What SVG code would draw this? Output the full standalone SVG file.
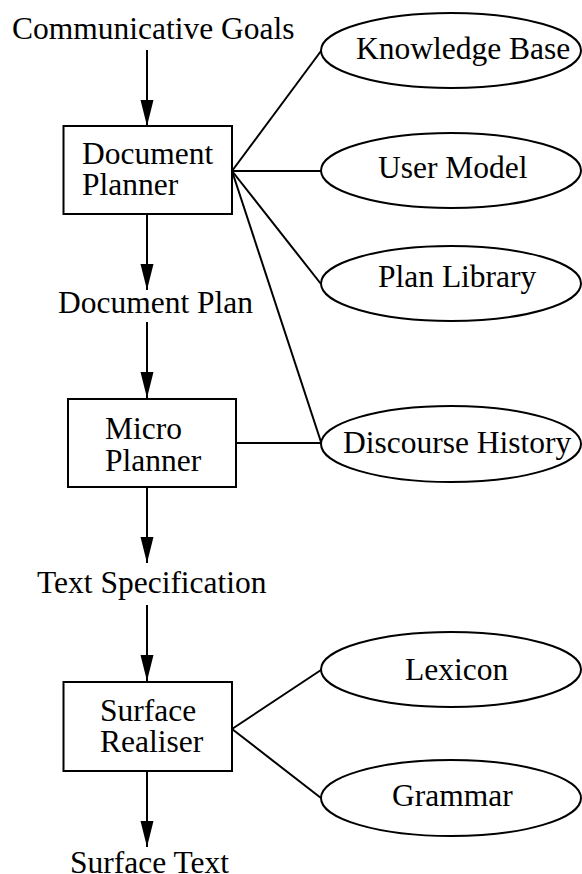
<svg xmlns="http://www.w3.org/2000/svg" width="582" height="874" viewBox="0 0 582 874">
  <style>
    .lbl { font-family: "Liberation Serif", "Times New Roman", serif; font-size: 31.5px; fill: #000; }
    .box { fill: #fff; stroke: #000; stroke-width: 2; }
    .ell { fill: #fff; stroke: #000; stroke-width: 2; }
    .edge { fill: none; stroke: #000; stroke-width: 2; }
  </style>
  <defs>
    <marker id="arrow" markerUnits="userSpaceOnUse" markerWidth="28" markerHeight="16" refX="26" refY="7" orient="auto">
      <polygon points="0,0.5 26,7 0,13.5" fill="#000"/>
    </marker>
  </defs>
  <rect width="582" height="874" fill="#fff"/>

  <!-- connectors -->
  <g id="connectors">
    <line class="edge" x1="147" y1="50" x2="147" y2="126" marker-end="url(#arrow)"/>
    <line class="edge" x1="147" y1="214" x2="147" y2="290" marker-end="url(#arrow)"/>
    <line class="edge" x1="147" y1="322" x2="147" y2="398" marker-end="url(#arrow)"/>
    <line class="edge" x1="147" y1="487" x2="147" y2="563" marker-end="url(#arrow)"/>
    <line class="edge" x1="147" y1="605" x2="147" y2="681" marker-end="url(#arrow)"/>
    <line class="edge" x1="147" y1="771" x2="147" y2="847" marker-end="url(#arrow)"/>
    <line class="edge" x1="232" y1="171" x2="321" y2="51"/>
    <line class="edge" x1="232" y1="171" x2="321" y2="171"/>
    <line class="edge" x1="232" y1="171" x2="321" y2="284"/>
    <line class="edge" x1="232" y1="171" x2="321" y2="442"/>
    <line class="edge" x1="236" y1="443" x2="321" y2="443"/>
    <line class="edge" x1="232" y1="729" x2="321" y2="670"/>
    <line class="edge" x1="232" y1="729" x2="321" y2="798"/>
  </g>

  <!-- flow labels -->
  <text class="lbl" x="12" y="39">Communicative Goals</text>
  <text class="lbl" x="58" y="313">Document Plan</text>
  <text class="lbl" x="37" y="593">Text Specification</text>
  <text class="lbl" x="70" y="873">Surface Text</text>

  <!-- processing stages -->
  <g id="document-planner">
    <rect class="box" x="63.5" y="126" width="168.5" height="88"/>
    <text class="lbl" x="82" y="164">Document</text>
    <text class="lbl" x="82" y="195">Planner</text>
  </g>
  <g id="micro-planner">
    <rect class="box" x="68" y="399" width="168" height="88"/>
    <text class="lbl" x="105" y="439">Micro</text>
    <text class="lbl" x="105" y="471">Planner</text>
  </g>
  <g id="surface-realiser">
    <rect class="box" x="63.5" y="682" width="168.5" height="89"/>
    <text class="lbl" x="100" y="721">Surface</text>
    <text class="lbl" x="100" y="752">Realiser</text>
  </g>

  <!-- knowledge sources -->
  <g id="knowledge-base">
    <ellipse class="ell" cx="451" cy="50.5" rx="130" ry="37.5"/>
    <text class="lbl" x="356" y="59">Knowledge Base</text>
  </g>
  <g id="user-model">
    <ellipse class="ell" cx="451" cy="170.5" rx="130" ry="37.5"/>
    <text class="lbl" x="378" y="178">User Model</text>
  </g>
  <g id="plan-library">
    <ellipse class="ell" cx="451" cy="283.5" rx="130" ry="37.5"/>
    <text class="lbl" x="378" y="287">Plan Library</text>
  </g>
  <g id="discourse-history">
    <ellipse class="ell" cx="451" cy="444" rx="130" ry="38"/>
    <text class="lbl" x="343" y="453">Discourse History</text>
  </g>
  <g id="lexicon">
    <ellipse class="ell" cx="451" cy="669.5" rx="130" ry="37.5"/>
    <text class="lbl" x="405" y="680">Lexicon</text>
  </g>
  <g id="grammar">
    <ellipse class="ell" cx="451" cy="798" rx="130" ry="38"/>
    <text class="lbl" x="392" y="806">Grammar</text>
  </g>
</svg>
